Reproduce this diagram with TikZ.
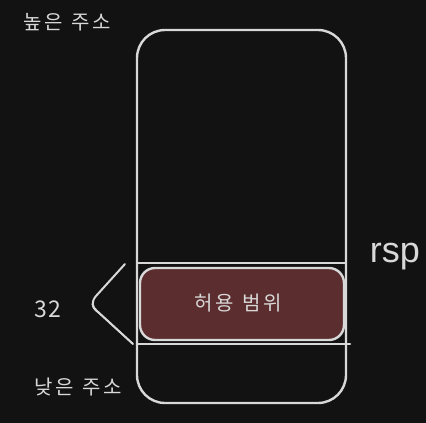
\documentclass[tikz,border=0pt]{standalone}
\usepackage{fontspec}
\newfontfamily\kr[LetterSpace=14]{Noto Sans CJK KR}
\newfontfamily\krn[LetterSpace=8]{Noto Sans CJK KR}
\newfontfamily\hand{Liberation Sans}
\definecolor{bg}{HTML}{121212}
\definecolor{ink}{HTML}{D8D8D8}
\definecolor{redfill}{HTML}{5C2D2E}
\newcommand{\wsp}{\hspace{8pt}}
\tikzset{
  ln/.style={draw=ink, line width=2.4pt, line cap=round, line join=round},
  lbl/.style={text=ink, font=\kr\fontsize{20}{23}\selectfont, inner sep=0pt}
}
\begin{document}
\begin{tikzpicture}[x=1pt,y=-1pt]
\fill[bg] (0,0) rectangle (426,423);
\useasboundingbox (0,0) rectangle (426,423);
\node[ln, rounded corners=28pt, minimum width=209pt, minimum height=373pt, inner sep=0pt] (stack) at (241.5,216.5) {};
\coordinate (l1a) at (137,263);
\coordinate (l1b) at (346,263);
\coordinate (l2a) at (137,344);
\coordinate (l2b) at (350,344);
\draw[ln] (l1a) -- (l1b);
\draw[ln] (l2a) -- (l2b);
\node[ln, fill=redfill, rounded corners=15pt, minimum width=204pt, minimum height=72pt, inner sep=0pt] (range) at (242,304) {};
\node[lbl] (rangetxt) at (238,303) {허용\wsp 범위};
\node[lbl] (high) at (67,22) {높은\wsp 주소};
\node[lbl] (low) at (78,387) {낮은\wsp 주소};
\node[text=ink, font=\krn\fontsize{23}{26}\selectfont, inner sep=0pt] (n32) at (48,309) {32};
\node[text=ink, font=\hand\fontsize{36}{38}\selectfont, inner sep=0pt] (rsp) at (395,257) {rsp};
\coordinate (bt) at (125,264);
\coordinate (bb) at (133,344);
\draw[ln, line width=2pt] (bt) -- (96,296) .. controls (91,302) and (92,307) .. (97,311) -- (bb);
\draw[ln, line width=1.4pt] (93,301) .. controls (91,306) and (94,310) .. (99,313) -- (bb);
\end{tikzpicture}
\end{document}
